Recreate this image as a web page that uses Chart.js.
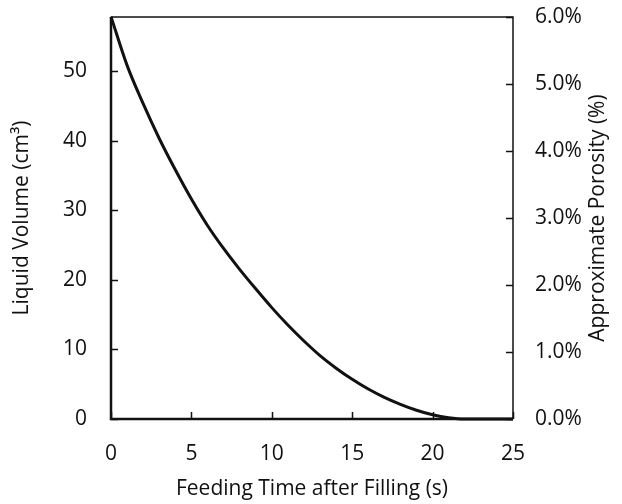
<!DOCTYPE html>
<html>
<head>
<meta charset="utf-8">
<script src="https://cdn.jsdelivr.net/npm/chart.js@4.4.1/dist/chart.umd.min.js"></script>
<style>
  html, body { margin: 0; padding: 0; background: #fff; }
  #wrap { width: 622px; height: 504px; }
</style>
</head>
<body>
<div id="wrap"><canvas id="porosityChart" width="622" height="504"></canvas></div>
<script>
// values
const feedTime = [0, 1, 2, 3, 4, 5, 6, 7, 8, 9, 10, 11, 12, 13, 14, 15, 16, 17, 18, 19, 20, 21, 22, 23, 24, 25];
const liquidVolume = [57.8, 50.8, 45.3, 40.3, 35.8, 31.6, 27.8, 24.5, 21.5, 18.7, 16.0, 13.5, 11.2, 9.1, 7.3, 5.7, 4.3, 3.1, 2.1, 1.25, 0.6, 0.18, 0, 0, 0, 0];

const xTicks = [0, 5, 10, 15, 20, 25];
const volumeTicks = [0, 10, 20, 30, 40, 50];
const porosityTicks = [0, 1, 2, 3, 4, 5, 6];

const xTitle = 'Feeding Time after Filling (s)';
const leftTitle = 'Liquid Volume (cm³)';
const rightTitle = 'Approximate Porosity (%)';

const FONT = "'Open Sans', sans-serif";
const FSIZE = 21;
const INK = '#111111';

const setTicks = (list) => (scale) => {
    scale.ticks = list.map(v => ({ value: v }));
};

// frame, inward tick marks and the right-hand title
const framePlugin = {
    id: 'frame',
    afterDraw(chart) {
        const { ctx, chartArea: a, scales } = chart;
        const len = 7;
        ctx.save();
        ctx.strokeStyle = INK;
        ctx.lineWidth = 1.5;
        ctx.beginPath();
        xTicks.forEach(v => {
            const px = Math.round(scales.x.getPixelForValue(v)) + 0.5;
            ctx.moveTo(px, a.bottom);
            ctx.lineTo(px, a.bottom - len);
        });
        volumeTicks.forEach(v => {
            const py = Math.round(scales.y.getPixelForValue(v)) + 0.5;
            ctx.moveTo(a.left, py);
            ctx.lineTo(a.left + len, py);
        });
        porosityTicks.forEach(v => {
            const py = Math.round(scales.y2.getPixelForValue(v)) + 0.5;
            ctx.moveTo(a.right, py);
            ctx.lineTo(a.right - len, py);
        });
        ctx.stroke();

        ctx.lineWidth = 1.5;
        ctx.beginPath();
        ctx.moveTo(a.left, a.top);
        ctx.lineTo(a.right, a.top);
        ctx.lineTo(a.right, a.bottom);
        ctx.stroke();

        ctx.lineWidth = 2.5;
        ctx.beginPath();
        ctx.moveTo(a.left, a.top);
        ctx.lineTo(a.left, a.bottom);
        ctx.lineTo(a.right, a.bottom);
        ctx.stroke();

        ctx.fillStyle = INK;
        ctx.font = FSIZE + 'px ' + FONT;
        ctx.textAlign = 'center';
        ctx.textBaseline = 'middle';
        ctx.translate(598, (a.top + a.bottom) / 2);
        ctx.rotate(-Math.PI / 2);
        ctx.fillText(rightTitle, 0, 0);
        ctx.restore();
    }
};

const noEdgePadding = (width) => (s) => {
    s.width = width;
    s.paddingTop = 0;
    s.paddingBottom = 0;
};

const chartConfig = {
    type: 'line',
    data: {
        datasets: [
            {
                label: 'Liquid Volume',
                data: feedTime.map((t, i) => ({ x: t, y: liquidVolume[i] })),
                borderColor: '#111111',
                borderWidth: 3,
                pointRadius: 0,
                cubicInterpolationMode: 'monotone',
                fill: false,
                clip: 3,
                yAxisID: 'y'
            }
        ]
    },
    options: {
        responsive: false,
        animation: false,
        layout: { padding: { top: 17, left: 0, right: 0, bottom: 0 } },
        plugins: {
            legend: { display: false },
            tooltip: { enabled: false }
        },
        scales: {
            x: {
                type: 'linear',
                min: 0,
                max: 25,
                afterBuildTicks: setTicks(xTicks),
                afterFit: (s) => { s.height = 85; },
                grid: { display: false, drawTicks: false },
                border: { display: false },
                ticks: {
                    padding: 22,
                    color: INK,
                    font: { family: FONT, size: FSIZE }
                },
                title: {
                    display: true,
                    text: xTitle,
                    color: INK,
                    padding: { top: 0, bottom: 2 },
                    font: { family: FONT, size: FSIZE }
                }
            },
            y: {
                position: 'left',
                min: 0,
                max: 57.75,
                afterBuildTicks: setTicks(volumeTicks),
                afterFit: noEdgePadding(111),
                grid: { display: false, drawTicks: false },
                border: { display: false },
                ticks: {
                    padding: 24,
                    color: INK,
                    font: { family: FONT, size: FSIZE }
                },
                title: {
                    display: true,
                    text: leftTitle,
                    color: INK,
                    padding: { top: 9, bottom: 0 },
                    font: { family: FONT, size: FSIZE }
                }
            },
            y2: {
                position: 'right',
                min: 0,
                max: 6,
                afterBuildTicks: setTicks(porosityTicks),
                afterFit: noEdgePadding(109),
                grid: { display: false, drawTicks: false },
                border: { display: false },
                ticks: {
                    padding: 22,
                    color: INK,
                    font: { family: FONT, size: FSIZE },
                    callback: (value) => value.toFixed(1) + '%'
                }
            }
        }
    },
    plugins: [framePlugin]
};

const ctx = document.getElementById('porosityChart').getContext('2d');
const porosityChart = new Chart(ctx, chartConfig);
</script>
</body>
</html>
